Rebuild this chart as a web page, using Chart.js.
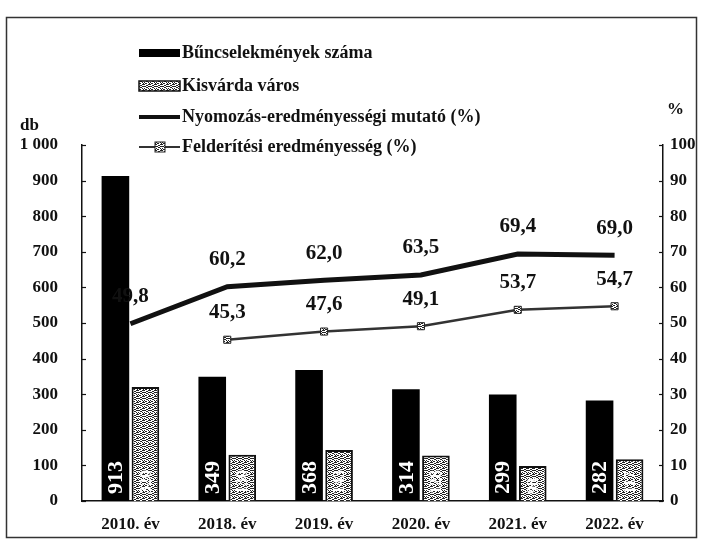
<!DOCTYPE html>
<html>
<head>
<meta charset="utf-8">
<script src="https://cdn.jsdelivr.net/npm/chart.js@4.4.0/dist/chart.umd.min.js"></script>
<style>
  html, body { margin: 0; padding: 0; background: #fff; }
  #wrap { width: 705px; height: 546px; }
</style>
</head>
<body>
<div id="wrap"><canvas id="chart" width="705" height="546"></canvas></div>
<script>
// data
const years = ['2010. év', '2018. év', '2019. év', '2020. év', '2021. év', '2022. év'];
const crimeCount = [913, 349, 368, 314, 299, 282];
const kisvardaCount = [320, 130, 143, 128, 98, 117];
const investigationRate = [49.8, 60.2, 62.0, 63.5, 69.4, 69.0];
const detectionRate = [null, 45.3, 47.6, 49.1, 53.7, 54.7];
const seriesNames = [
  'Bűncselekmények száma',
  'Kisvárda város',
  'Nyomozás-eredményességi mutató (%)',
  'Felderítési eredményesség (%)'
];

const SERIF = '"Liberation Serif", "Times New Roman", serif';
const INK = '#111';

// speckled grey fill like the scan
function makeSpeckle() {
  const c = document.createElement('canvas');
  c.width = 6; c.height = 6;
  const g = c.getContext('2d');
  g.fillStyle = '#fff';
  g.fillRect(0, 0, 6, 6);
  g.fillStyle = '#222';
  const dots = [[0,0],[2,1],[4,0],[1,2],[3,3],[5,2],[0,4],[2,5],[4,4],[5,5],[1,5],[3,1],[5,0],[0,2],[2,3],[4,2]];
  dots.forEach(([x, y]) => g.fillRect(x, y, 1, 1));
  return g.createPattern(c, 'repeat');
}
const speckle = makeSpeckle();

const comma = v => v.toFixed(1).replace('.', ',');
const spaced = v => String(v).replace(/\B(?=(\d{3})+(?!\d))/g, ' ');

// value labels: rotated inside bars, above points for lines
const valueLabels = {
  id: 'valueLabels',
  afterDatasetsDraw(chart) {
    const ctx = chart.ctx;
    chart.data.datasets.forEach((ds, i) => {
      const meta = chart.getDatasetMeta(i);
      meta.data.forEach((el, j) => {
        const v = ds.data[j];
        if (v == null) return;
        ctx.save();
        if (ds.type === 'bar') {
          ctx.translate(el.x, el.base - 7);
          ctx.rotate(-Math.PI / 2);
          ctx.fillStyle = '#fff';
          ctx.font = (i === 0 ? 'bold 22px ' : 'bold 16px ') + SERIF;
          ctx.textAlign = 'left';
          ctx.textBaseline = 'middle';
          ctx.fillText(String(v), 0, 1);
        } else {
          ctx.fillStyle = INK;
          ctx.font = 'bold 21px ' + SERIF;
          ctx.textAlign = 'center';
          ctx.textBaseline = 'middle';
          ctx.fillText(comma(v), el.x, el.y - 27);
        }
        ctx.restore();
      });
    });
  }
};

// legend list, axis units, inner tick marks and frame
const decorations = {
  id: 'decorations',
  afterDraw(chart) {
    const ctx = chart.ctx;
    const area = chart.chartArea;
    ctx.save();

    // frame of the scanned figure
    ctx.strokeStyle = '#333';
    ctx.lineWidth = 1.5;
    ctx.strokeRect(6.5, 17.5, 690, 520);

    // inner tick marks
    ctx.strokeStyle = INK;
    ctx.lineWidth = 1.2;
    const yl = chart.scales.y, yr = chart.scales.y1;
    yl.ticks.forEach(t => {
      const p = Math.round(yl.getPixelForValue(t.value)) + 0.5;
      ctx.beginPath(); ctx.moveTo(area.left, p); ctx.lineTo(area.left + 4, p); ctx.stroke();
    });
    yr.ticks.forEach(t => {
      const p = Math.round(yr.getPixelForValue(t.value)) + 0.5;
      ctx.beginPath(); ctx.moveTo(area.right, p); ctx.lineTo(area.right - 4, p); ctx.stroke();
    });

    // axis units
    ctx.fillStyle = INK;
    ctx.font = 'bold 17px ' + SERIF;
    ctx.textBaseline = 'middle';
    ctx.textAlign = 'left';
    ctx.fillText('db', 20, 126);
    ctx.fillText('%', 667, 110);

    // legend
    const rows = [53, 86, 117, 147];
    const x0 = 139, x1 = 180;
    rows.forEach((y, i) => {
      if (i === 0) {
        ctx.fillStyle = '#000';
        ctx.fillRect(x0, y - 4, x1 - x0, 8);
      } else if (i === 1) {
        ctx.fillStyle = speckle;
        ctx.fillRect(x0, y - 5, x1 - x0, 10);
        ctx.strokeStyle = INK;
        ctx.lineWidth = 1.5;
        ctx.strokeRect(x0, y - 5, x1 - x0, 10);
      } else if (i === 2) {
        ctx.strokeStyle = INK;
        ctx.lineWidth = 4;
        ctx.beginPath(); ctx.moveTo(x0, y); ctx.lineTo(x1, y); ctx.stroke();
      } else {
        ctx.strokeStyle = '#333';
        ctx.lineWidth = 2;
        ctx.beginPath(); ctx.moveTo(x0, y); ctx.lineTo(x1, y); ctx.stroke();
        ctx.fillStyle = speckle;
        ctx.fillRect(x0 + 16, y - 5, 10, 10);
        ctx.strokeStyle = '#222';
        ctx.lineWidth = 1;
        ctx.strokeRect(x0 + 16, y - 5, 10, 10);
      }
      ctx.fillStyle = INK;
      ctx.font = 'bold 18px ' + SERIF;
      ctx.textAlign = 'left';
      ctx.textBaseline = 'middle';
      ctx.fillText(seriesNames[i], x1 + 2, y);
    });
    ctx.restore();
  }
};

const tickFont = { family: SERIF, size: 17, weight: 'bold' };

new Chart(document.getElementById('chart'), {
  data: {
    labels: years,
    datasets: [
      {
        type: 'bar',
        label: seriesNames[0],
        data: crimeCount,
        backgroundColor: '#000',
        borderColor: '#000',
        borderWidth: 0,
        yAxisID: 'y',
        categoryPercentage: 0.62,
        barPercentage: 0.92,
        order: 0
      },
      {
        type: 'bar',
        label: seriesNames[1],
        data: kisvardaCount,
        backgroundColor: speckle,
        borderColor: INK,
        borderWidth: 2,
        yAxisID: 'y',
        categoryPercentage: 0.62,
        barPercentage: 0.92,
        order: 0
      },
      {
        type: 'line',
        label: seriesNames[2],
        data: investigationRate,
        borderColor: INK,
        borderWidth: 5,
        pointRadius: 0,
        tension: 0,
        yAxisID: 'y1',
        order: 1
      },
      {
        type: 'line',
        label: seriesNames[3],
        data: detectionRate,
        borderColor: '#333',
        borderWidth: 2.5,
        pointStyle: 'rect',
        pointRadius: 5,
        pointBackgroundColor: speckle,
        pointBorderColor: '#222',
        pointBorderWidth: 1,
        tension: 0,
        spanGaps: false,
        yAxisID: 'y1',
        order: 1
      }
    ]
  },
  options: {
    responsive: false,
    animation: false,
    devicePixelRatio: 1,
    layout: { padding: { top: 145, left: 0, right: 0, bottom: 0 } },
    plugins: {
      legend: { display: false },
      tooltip: { enabled: false }
    },
    scales: {
      x: {
        grid: { display: false, drawTicks: false },
        border: { color: INK, width: 1.5 },
        ticks: { font: tickFont, color: INK, padding: 13 },
        afterFit(s) { s.height = 45; }
      },
      y: {
        position: 'left',
        min: 0,
        max: 1000,
        grid: { display: false, drawTicks: false },
        border: { color: INK, width: 1.5 },
        ticks: { stepSize: 100, font: tickFont, color: INK, padding: 24, callback: v => spaced(v) },
        afterFit(s) { s.width = 82; }
      },
      y1: {
        position: 'right',
        min: 0,
        max: 100,
        grid: { display: false, drawTicks: false },
        border: { color: INK, width: 1.5 },
        ticks: { stepSize: 10, font: tickFont, color: INK, padding: 7 },
        afterFit(s) { s.width = 42; }
      }
    }
  },
  plugins: [valueLabels, decorations]
});
</script>
</body>
</html>
